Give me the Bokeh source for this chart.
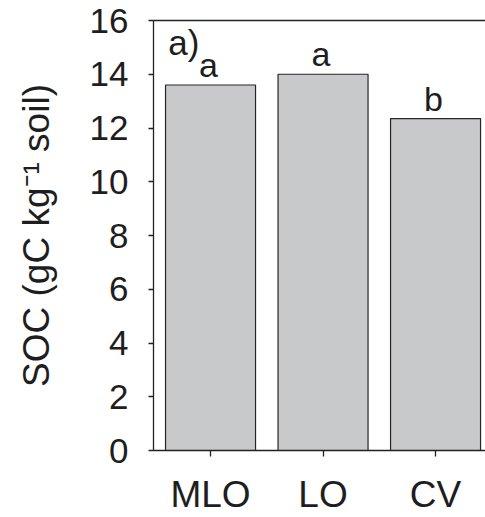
from bokeh.plotting import figure
from bokeh.models import Range1d, FixedTicker, LinearAxis, Label, ColumnDataSource
from bokeh.embed import file_html
from bokeh.resources import INLINE
from bokeh.core.properties import value

# ---- data ----
categories = ["MLO", "LO", "CV"]
soc = [13.6, 14.0, 12.35]
letters = ["a", "a", "b"]
y_ticks = [0, 2, 4, 6, 8, 10, 12, 14, 16]
panel_label = "a)"
y_label = "SOC (gC kg\u207b\u00b9 soil)"

FONT = "Liberation Sans"
TXT = "#1e1e1e"

positions = list(range(len(categories)))
src = ColumnDataSource(dict(x=positions, top=soc, letter=letters))

p = figure(width=485, height=517, output_backend="svg", toolbar_location=None,
           x_range=Range1d(-0.507, 2.444), y_range=Range1d(0, 16),
           min_border_left=153, min_border_right=0, min_border_top=20,
           min_border_bottom=63)
p.outline_line_color = None
p.xgrid.visible = False
p.ygrid.visible = False
p.background_fill_color = "white"
p.border_fill_color = "white"

p.vbar(x="x", top="top", bottom=0, width=0.8, source=src,
       fill_color="#c8c9cb", line_color="#262626", line_width=1.2)

p.text(x="x", y="top", text="letter", source=src, y_offset=-20, x_offset=-2,
       text_align="center", text_baseline="alphabetic",
       text_font=value(FONT), text_font_size="34px", text_color=TXT)

p.add_layout(Label(x=-0.375, y=15.2, text=panel_label, text_font=FONT,
                   text_font_size="35px", text_color=TXT,
                   text_baseline="alphabetic", text_align="left"))

# x axis
xa = p.xaxis[0]
xa.ticker = FixedTicker(ticks=positions)
xa.major_label_overrides = {i: c for i, c in enumerate(categories)}
xa.major_label_text_font = FONT
xa.major_label_text_font_size = "37px"
xa.major_label_text_color = TXT
xa.major_label_standoff = 17
xa.major_tick_in = 0
xa.major_tick_out = 6
xa.minor_tick_line_color = None
xa.axis_line_color = "#222222"
xa.axis_line_width = 1.3
xa.major_tick_line_color = "#222222"
xa.major_tick_line_width = 1.3

# y axis
ya = p.yaxis[0]
ya.ticker = FixedTicker(ticks=y_ticks)
ya.major_label_text_font = FONT
ya.major_label_text_font_size = "35px"
ya.major_label_text_color = TXT
ya.major_label_standoff = 20
ya.major_tick_in = 0
ya.major_tick_out = 5
ya.minor_tick_line_color = None
ya.axis_line_color = "#222222"
ya.axis_line_width = 1.3
ya.major_tick_line_color = "#222222"
ya.major_tick_line_width = 1.3
ya.axis_label = y_label
ya.axis_label_text_font = FONT
ya.axis_label_text_font_size = "37px"
ya.axis_label_text_font_style = "normal"
ya.axis_label_text_color = TXT
ya.axis_label_standoff = 30

# top frame line
top = LinearAxis(ticker=FixedTicker(ticks=[]), major_tick_line_color=None,
                 minor_tick_line_color=None, major_label_text_font_size="0px",
                 axis_line_color="#222222", axis_line_width=1.3)
p.add_layout(top, "above")

open("out.html", "w").write(file_html(p, INLINE))
